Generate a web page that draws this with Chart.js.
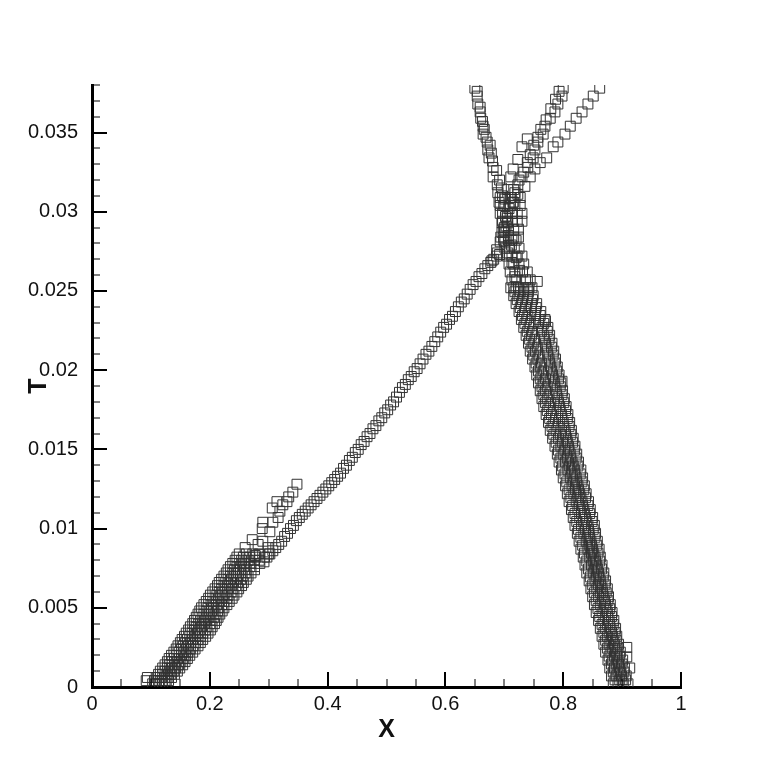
<!DOCTYPE html>
<html>
<head>
<meta charset="utf-8">
<title>T vs X</title>
<style>
  html, body { margin: 0; padding: 0; background: #fff; }
  canvas { display: block; }
</style>
<script src="https://cdn.jsdelivr.net/npm/chart.js@4"></script>
</head>
<body>
<canvas id="chart" width="765" height="765"></canvas>
<script>
// axis ticks
const xMajor = [0, 0.2, 0.4, 0.6, 0.8, 1];
const xLabels = ["0", "0.2", "0.4", "0.6", "0.8", "1"];
const xMinor = [0.05, 0.1, 0.15, 0.25, 0.3, 0.35, 0.45, 0.5, 0.55, 0.65, 0.7, 0.75, 0.85, 0.9, 0.95];
const yMajor = [0, 0.005, 0.01, 0.015, 0.02, 0.025, 0.03, 0.035];
const yLabels = ["0", "0.005", "0.01", "0.015", "0.02", "0.025", "0.03", "0.035"];
const yMinor = [0.001, 0.002, 0.003, 0.004, 0.006, 0.007, 0.008, 0.009, 0.011, 0.012, 0.013, 0.014,
  0.016, 0.017, 0.018, 0.019, 0.021, 0.022, 0.023, 0.024, 0.026, 0.027, 0.028, 0.029,
  0.031, 0.032, 0.033, 0.034, 0.036, 0.037, 0.038];

// left band, lines in two sets of T rows
const leftT = [0.0002, 0.0006, 0.001, 0.0014, 0.0018, 0.0022, 0.0026, 0.003, 0.0034, 0.0038, 0.0042,
  0.0046, 0.005, 0.0054, 0.0058, 0.0062, 0.0066, 0.007, 0.0074, 0.0078, 0.0082];
const leftX1 = [0.103, 0.109, 0.116, 0.124, 0.131, 0.139, 0.146, 0.153, 0.16, 0.167, 0.174, 0.18, 0.186, 0.194, 0.201, 0.209, 0.216, 0.224, 0.231, 0.239, 0.246];
const leftX2 = [0.109, 0.116, 0.124, 0.132, 0.14, 0.148, 0.155, 0.162, 0.17, 0.177, 0.184, 0.19, 0.197, 0.205, 0.212, 0.22, 0.227, 0.235, 0.242, 0.25, 0.257];
const leftX3 = [0.115, 0.123, 0.131, 0.14, 0.148, 0.156, 0.164, 0.171, 0.179, 0.186, 0.193, 0.2, 0.206, 0.215, 0.222, 0.23, 0.237, 0.245, 0.252, 0.26, 0.268];
const leftX4 = [0.12, 0.129, 0.138, 0.147, 0.155, 0.163, 0.172, 0.18, 0.188, 0.195, 0.202, 0.209, 0.215, 0.224, 0.231, 0.239, 0.247, 0.255, 0.262, 0.27, 0.278];
const leftX5 = [0.126, 0.135, 0.145, 0.154, 0.162, 0.171, 0.18, 0.188, 0.197, 0.204, 0.211, 0.217, 0.224, 0.233, 0.241, 0.249, 0.257, 0.265, 0.276, 0.285, 0.293];
const leftT2 = [0.0004, 0.0008, 0.0012, 0.0016, 0.002, 0.0024, 0.0028, 0.0032, 0.0036, 0.004, 0.0044,
  0.0048, 0.0052, 0.0056, 0.006, 0.0064, 0.0068, 0.0072, 0.0076, 0.008, 0.0084];
const leftX6 = [0.106, 0.113, 0.12, 0.128, 0.135, 0.143, 0.15, 0.157, 0.164, 0.171, 0.177, 0.183, 0.19, 0.198, 0.205, 0.213, 0.22, 0.228, 0.235, 0.243, 0.25];
const leftX7 = [0.113, 0.12, 0.128, 0.136, 0.144, 0.152, 0.159, 0.166, 0.174, 0.181, 0.187, 0.194, 0.202, 0.209, 0.216, 0.224, 0.231, 0.239, 0.246, 0.254, 0.262];
const leftX8 = [0.119, 0.127, 0.135, 0.144, 0.152, 0.16, 0.168, 0.175, 0.183, 0.19, 0.197, 0.203, 0.211, 0.219, 0.226, 0.234, 0.241, 0.249, 0.257, 0.265, 0.273];
const leftX9 = [0.124, 0.133, 0.142, 0.151, 0.159, 0.167, 0.176, 0.184, 0.192, 0.2, 0.206, 0.213, 0.22, 0.229, 0.236, 0.244, 0.252, 0.26, 0.268, 0.276, 0.284];
const leftX10 = [0.13, 0.14, 0.149, 0.158, 0.166, 0.175, 0.184, 0.193, 0.201, 0.208, 0.214, 0.221, 0.229, 0.238, 0.246, 0.254, 0.262, 0.27, 0.276, 0.284, 0.3];

// open squares that fan out above the left band
const fanX = [0.348, 0.341, 0.334, 0.331, 0.314, 0.306, 0.319, 0.316, 0.29, 0.307, 0.289, 0.302, 0.272, 0.29, 0.282, 0.299, 0.26, 0.277, 0.324, 0.092, 0.094];
const fanT = [0.0128, 0.0123, 0.012, 0.0117, 0.0117, 0.0113, 0.0111, 0.0107, 0.0104, 0.0104, 0.01, 0.0098, 0.0093, 0.0092, 0.009, 0.0088, 0.0088, 0.0083, 0.0115, 0.0004, 0.0006];

// long line from the band up to the apex
const mainX = [0.292, 0.302, 0.312, 0.322, 0.332, 0.342, 0.352, 0.362, 0.372, 0.382, 0.392, 0.402, 0.412, 0.422, 0.432, 0.442, 0.452, 0.462, 0.472, 0.482, 0.492, 0.502, 0.512, 0.522, 0.532, 0.542, 0.552, 0.562, 0.572, 0.582, 0.592, 0.602, 0.612, 0.622, 0.632, 0.642, 0.652, 0.662, 0.672, 0.682, 0.692];
const mainT = [0.0079, 0.0084, 0.0088, 0.0092, 0.0097, 0.0102, 0.0107, 0.0111, 0.0115, 0.0119, 0.0123, 0.0127, 0.0131, 0.0135, 0.014, 0.0145, 0.015, 0.0155, 0.016, 0.0165, 0.017, 0.0175, 0.018, 0.0186, 0.0191, 0.0196, 0.0201, 0.0207, 0.0212, 0.0218, 0.0224, 0.0229, 0.0234, 0.024, 0.0245, 0.0251, 0.0256, 0.0261, 0.0266, 0.027, 0.0273];
const mainX2 = [0.297, 0.307, 0.317, 0.327, 0.337, 0.347, 0.357, 0.367, 0.377, 0.387, 0.397, 0.407, 0.417, 0.427, 0.437, 0.447, 0.457, 0.467, 0.477, 0.487, 0.497, 0.507, 0.517, 0.527, 0.537, 0.547, 0.557, 0.567, 0.577, 0.587, 0.597, 0.607, 0.617, 0.627, 0.637, 0.647, 0.657, 0.667, 0.677, 0.687];
const mainT2 = [0.0082, 0.0086, 0.009, 0.0095, 0.01, 0.0105, 0.0109, 0.0113, 0.0117, 0.0121, 0.0125, 0.0129, 0.0133, 0.0138, 0.0143, 0.0148, 0.0153, 0.0158, 0.0163, 0.0168, 0.0173, 0.0178, 0.0183, 0.0189, 0.0194, 0.0199, 0.0204, 0.021, 0.0215, 0.0221, 0.0227, 0.0232, 0.0237, 0.0243, 0.0248, 0.0254, 0.0259, 0.0264, 0.0268, 0.0272];

// right band, lines in two sets of T rows
const rightT = [0.0002, 0.0007, 0.0012, 0.0017, 0.0022, 0.0027, 0.0032, 0.0037, 0.0042, 0.0047, 0.0052, 0.0057, 0.0062, 0.0067, 0.0072, 0.0077, 0.0082, 0.0087, 0.0092, 0.0097, 0.0102, 0.0107, 0.0112, 0.0117, 0.0122, 0.0127, 0.0132, 0.0137, 0.0142, 0.0147, 0.0152, 0.0157, 0.0162, 0.0167, 0.0172, 0.0177, 0.0182, 0.0187, 0.0192, 0.0197, 0.0202, 0.0207, 0.0212, 0.0217, 0.0222, 0.0227, 0.0232, 0.0237, 0.0242, 0.0247, 0.0252];
const rightX1 = [0.885, 0.882, 0.879, 0.876, 0.872, 0.869, 0.866, 0.863, 0.86, 0.856, 0.853, 0.85, 0.847, 0.844, 0.84, 0.837, 0.834, 0.83, 0.827, 0.824, 0.82, 0.817, 0.814, 0.81, 0.807, 0.804, 0.8, 0.797, 0.793, 0.79, 0.786, 0.782, 0.778, 0.775, 0.771, 0.767, 0.764, 0.761, 0.758, 0.755, 0.752, 0.748, 0.744, 0.741, 0.737, 0.733, 0.729, 0.725, 0.72, 0.716, 0.711];
const rightX2 = [0.893, 0.89, 0.887, 0.884, 0.881, 0.878, 0.875, 0.872, 0.869, 0.866, 0.863, 0.86, 0.857, 0.854, 0.851, 0.848, 0.845, 0.842, 0.839, 0.835, 0.831, 0.828, 0.825, 0.822, 0.818, 0.815, 0.812, 0.808, 0.804, 0.8, 0.796, 0.792, 0.788, 0.784, 0.78, 0.776, 0.773, 0.77, 0.767, 0.764, 0.761, 0.757, 0.753, 0.75, 0.746, 0.742, 0.738, 0.734, 0.729, 0.725, 0.72];
const rightX3 = [0.902, 0.899, 0.896, 0.893, 0.89, 0.887, 0.884, 0.881, 0.878, 0.875, 0.872, 0.869, 0.866, 0.863, 0.86, 0.857, 0.854, 0.85, 0.847, 0.844, 0.842, 0.838, 0.835, 0.832, 0.828, 0.825, 0.822, 0.819, 0.815, 0.812, 0.809, 0.806, 0.803, 0.8, 0.797, 0.794, 0.791, 0.788, 0.785, 0.782, 0.779, 0.776, 0.773, 0.77, 0.767, 0.764, 0.759, 0.753, 0.746, 0.74, 0.733];
const rightX4 = [0.91, 0.907, 0.904, 0.901, 0.897, 0.894, 0.891, 0.889, 0.886, 0.883, 0.88, 0.877, 0.875, 0.872, 0.869, 0.866, 0.863, 0.861, 0.858, 0.855, 0.853, 0.85, 0.846, 0.843, 0.839, 0.836, 0.833, 0.83, 0.826, 0.823, 0.82, 0.817, 0.814, 0.811, 0.808, 0.805, 0.802, 0.799, 0.796, 0.793, 0.79, 0.787, 0.784, 0.781, 0.777, 0.774, 0.769, 0.762, 0.755, 0.749, 0.742];
const rightT2 = [0.00045, 0.00095, 0.00145, 0.00195, 0.00245, 0.00295, 0.00345, 0.00395, 0.00445, 0.00495, 0.00545, 0.00595, 0.00645, 0.00695, 0.00745, 0.00795, 0.00845, 0.00895, 0.00945, 0.00995, 0.01045, 0.01095, 0.01145, 0.01195, 0.01245, 0.01295, 0.01345, 0.01395, 0.01445, 0.01495, 0.01545, 0.01595, 0.01645, 0.01695, 0.01745, 0.01795, 0.01845, 0.01895, 0.01945, 0.01995, 0.02045, 0.02095, 0.02145, 0.02195, 0.02245, 0.02295, 0.02345, 0.02395, 0.02445, 0.02495];
const rightX5 = [0.888, 0.885, 0.882, 0.878, 0.875, 0.872, 0.869, 0.866, 0.862, 0.859, 0.856, 0.853, 0.85, 0.846, 0.843, 0.84, 0.836, 0.833, 0.83, 0.826, 0.823, 0.82, 0.816, 0.813, 0.81, 0.806, 0.803, 0.799, 0.796, 0.792, 0.788, 0.784, 0.781, 0.777, 0.773, 0.77, 0.767, 0.764, 0.761, 0.758, 0.754, 0.75, 0.747, 0.743, 0.739, 0.735, 0.731, 0.727, 0.722, 0.718];
const rightX6 = [0.896, 0.893, 0.89, 0.887, 0.884, 0.881, 0.878, 0.875, 0.872, 0.869, 0.866, 0.863, 0.86, 0.857, 0.854, 0.851, 0.848, 0.845, 0.842, 0.838, 0.834, 0.831, 0.828, 0.825, 0.821, 0.818, 0.815, 0.811, 0.807, 0.803, 0.799, 0.795, 0.791, 0.787, 0.783, 0.779, 0.776, 0.773, 0.77, 0.767, 0.763, 0.759, 0.756, 0.752, 0.748, 0.744, 0.74, 0.736, 0.731, 0.727];
const rightX7 = [0.9, 0.897, 0.894, 0.891, 0.888, 0.885, 0.882, 0.879, 0.876, 0.873, 0.87, 0.867, 0.864, 0.861, 0.858, 0.855, 0.851, 0.848, 0.845, 0.843, 0.84, 0.836, 0.833, 0.83, 0.826, 0.823, 0.82, 0.817, 0.813, 0.81, 0.807, 0.804, 0.801, 0.798, 0.795, 0.792, 0.789, 0.786, 0.783, 0.78, 0.777, 0.774, 0.771, 0.768, 0.763, 0.758, 0.752, 0.746, 0.739, 0.733];
const rightX8 = [0.906, 0.903, 0.9, 0.896, 0.893, 0.89, 0.888, 0.885, 0.882, 0.879, 0.876, 0.873, 0.871, 0.868, 0.865, 0.862, 0.859, 0.857, 0.854, 0.851, 0.849, 0.845, 0.842, 0.838, 0.835, 0.832, 0.829, 0.825, 0.822, 0.819, 0.816, 0.813, 0.81, 0.807, 0.804, 0.801, 0.798, 0.795, 0.792, 0.789, 0.786, 0.783, 0.78, 0.776, 0.773, 0.767, 0.761, 0.754, 0.748, 0.741];
const strayX = [0.908, 0.908, 0.913, 0.798, 0.77, 0.756];
const strayT = [0.0025, 0.0019, 0.0012, 0.0193, 0.0231, 0.0256];

// legs between the crossing and the right band
const legT = [0.0282, 0.0277, 0.0272, 0.0267, 0.0262, 0.0257, 0.0252];
const legX1 = [0.699, 0.701, 0.705, 0.708, 0.71, 0.713, 0.716];
const legX2 = [0.707, 0.709, 0.713, 0.716, 0.718, 0.721, 0.724];
const legX3 = [0.72, 0.725, 0.73, 0.733, 0.739, 0.744, 0.747];
const legX4 = [0.713, 0.717, 0.722, 0.725, 0.731, 0.736, 0.739];

// arms above the crossing
const armLeftX = [0.65, 0.654, 0.655, 0.659, 0.66, 0.664, 0.664, 0.671, 0.672, 0.674, 0.681, 0.681, 0.688, 0.689, 0.691, 0.693, 0.696, 0.696, 0.701, 0.706, 0.713, 0.718];
const armLeftT = [0.0378, 0.0373, 0.0368, 0.0363, 0.0359, 0.0354, 0.0349, 0.0344, 0.0339, 0.0334, 0.0328, 0.0322, 0.0317, 0.0312, 0.0306, 0.0299, 0.0293, 0.0287, 0.0281, 0.0274, 0.0268, 0.0259];
const armLeft2X = [0.654, 0.659, 0.663, 0.666, 0.669, 0.676, 0.678, 0.68, 0.687, 0.692, 0.695, 0.697, 0.699, 0.702, 0.703, 0.707, 0.712, 0.72, 0.726];
const armLeft2T = [0.0376, 0.0366, 0.0357, 0.0352, 0.0347, 0.0342, 0.0337, 0.0332, 0.0326, 0.032, 0.0315, 0.031, 0.0304, 0.0297, 0.0291, 0.0285, 0.0279, 0.0271, 0.0263];
const armMidX = [0.8, 0.798, 0.791, 0.786, 0.778, 0.769, 0.766, 0.757, 0.752, 0.749, 0.74, 0.73, 0.723, 0.718, 0.715, 0.713, 0.706, 0.701, 0.693, 0.688, 0.679];
const armMidT = [0.0378, 0.0373, 0.0368, 0.0363, 0.0359, 0.0354, 0.0349, 0.0344, 0.0339, 0.0334, 0.0328, 0.0322, 0.0317, 0.0312, 0.0306, 0.0299, 0.0293, 0.0287, 0.0281, 0.0274, 0.0269];
const armMid2X = [0.793, 0.787, 0.779, 0.771, 0.762, 0.757, 0.75, 0.744, 0.739, 0.733, 0.725, 0.716, 0.712, 0.708, 0.705, 0.7, 0.694, 0.687];
const armMid2T = [0.0376, 0.0371, 0.0365, 0.0358, 0.0352, 0.0347, 0.0342, 0.0336, 0.0331, 0.0325, 0.032, 0.0314, 0.0309, 0.0302, 0.0296, 0.029, 0.0284, 0.0276];
const armRightX = [0.862, 0.851, 0.842, 0.832, 0.822, 0.812, 0.803, 0.791, 0.783, 0.772, 0.761, 0.752, 0.744, 0.735, 0.723, 0.715];
const armRightT = [0.0378, 0.0373, 0.0368, 0.0363, 0.0359, 0.0354, 0.0349, 0.0344, 0.0341, 0.0334, 0.0331, 0.0327, 0.0322, 0.0316, 0.0311, 0.0306];
const armOpenX = [0.739, 0.73, 0.723, 0.715, 0.711, 0.706, 0.701];
const armOpenT = [0.0346, 0.0341, 0.0333, 0.0327, 0.0322, 0.0314, 0.0308];

// dense block where the arms cross
const crossX = [0.693, 0.701, 0.71, 0.718, 0.727, 0.693, 0.701, 0.71, 0.718, 0.727, 0.697, 0.705, 0.714, 0.722, 0.73, 0.697, 0.705, 0.714, 0.722, 0.73, 0.699, 0.707, 0.716, 0.724, 0.699, 0.707, 0.716, 0.724];
const crossT = [0.0309, 0.0309, 0.0309, 0.0309, 0.0309, 0.0304, 0.0304, 0.0304, 0.0304, 0.0304, 0.0299, 0.0299, 0.0299, 0.0299, 0.0299, 0.0294, 0.0294, 0.0294, 0.0294, 0.0294, 0.0289, 0.0289, 0.0289, 0.0289, 0.0284, 0.0284, 0.0284, 0.0284];

const seriesList = [
  [leftX1, leftT], [leftX2, leftT], [leftX3, leftT], [leftX4, leftT], [leftX5, leftT],
  [leftX6, leftT2], [leftX7, leftT2], [leftX8, leftT2], [leftX9, leftT2], [leftX10, leftT2],
  [fanX, fanT], [mainX, mainT], [mainX2, mainT2],
  [rightX1, rightT], [rightX2, rightT], [rightX3, rightT], [rightX4, rightT],
  [rightX5, rightT2], [rightX6, rightT2], [rightX7, rightT2], [rightX8, rightT2], [strayX, strayT],
  [legX1, legT], [legX2, legT], [legX3, legT], [legX4, legT],
  [armLeftX, armLeftT], [armLeft2X, armLeft2T], [armMidX, armMidT], [armMid2X, armMid2T],
  [armRightX, armRightT], [armOpenX, armOpenT], [crossX, crossT]
];

// Tecplot style ticks pointing into the plot, two lengths
const innerTicks = {
  id: "innerTicks",
  afterDraw(chart) {
    const c = chart.ctx;
    const xs = chart.scales.x;
    const ys = chart.scales.y;
    c.save();
    c.strokeStyle = "#000";
    function mark(scale, values, len, width) {
      c.lineWidth = width;
      values.forEach(v => {
        const p = Math.round(scale.getPixelForValue(v));
        c.beginPath();
        if (scale === xs) {
          c.moveTo(p, ys.bottom);
          c.lineTo(p, ys.bottom - len);
        } else {
          c.moveTo(xs.left, p);
          c.lineTo(xs.left + len, p);
        }
        c.stroke();
      });
    }
    mark(xs, xMajor, 15, 2);
    mark(xs, xMinor, 8, 1);
    mark(ys, yMajor, 15, 2);
    mark(ys, yMinor, 8, 1);
    c.restore();
  }
};

new Chart(document.getElementById("chart").getContext("2d"), {
  type: "scatter",
  data: {
    datasets: seriesList.map(s => ({
      data: s[0].map((x, i) => ({ x: x, y: s[1][i] })),
      pointStyle: "rect",
      pointRadius: 7,
      pointBorderWidth: 1,
      pointBorderColor: "#333",
      pointBackgroundColor: "rgba(0,0,0,0)"
    }))
  },
  options: {
    responsive: false,
    animation: false,
    layout: { padding: { top: 85, right: 84, left: 0, bottom: 0 } },
    plugins: { legend: { display: false }, tooltip: { enabled: false } },
    scales: {
      x: {
        type: "linear",
        min: 0,
        max: 1,
        afterBuildTicks: scale => { scale.ticks = xMajor.map(v => ({ value: v })); },
        afterFit: scale => { scale.height = 78; },
        grid: { display: false },
        border: { display: true, color: "#000", width: 3 },
        ticks: {
          autoSkip: false,
          maxRotation: 0,
          padding: -3,
          color: "#111",
          font: { family: "Liberation Sans", size: 20 },
          callback: value => xLabels[xMajor.indexOf(value)]
        },
        title: {
          display: true,
          text: "X",
          color: "#111",
          font: { family: "Liberation Sans", size: 25, weight: "bold" },
          padding: { top: 0, bottom: 20 }
        }
      },
      y: {
        type: "linear",
        min: 0,
        max: 0.038,
        afterBuildTicks: scale => { scale.ticks = yMajor.map(v => ({ value: v })); },
        afterFit: scale => { scale.width = 92; },
        grid: { display: false },
        border: { display: true, color: "#000", width: 3 },
        ticks: {
          autoSkip: false,
          padding: 6,
          color: "#111",
          font: { family: "Liberation Sans", size: 20 },
          callback: value => yLabels[yMajor.indexOf(value)]
        },
        title: {
          display: true,
          text: "T",
          color: "#111",
          font: { family: "Liberation Sans", size: 25, weight: "bold" },
          padding: { top: 24, bottom: 0 }
        }
      }
    }
  },
  plugins: [innerTicks]
});
</script>
</body>
</html>
